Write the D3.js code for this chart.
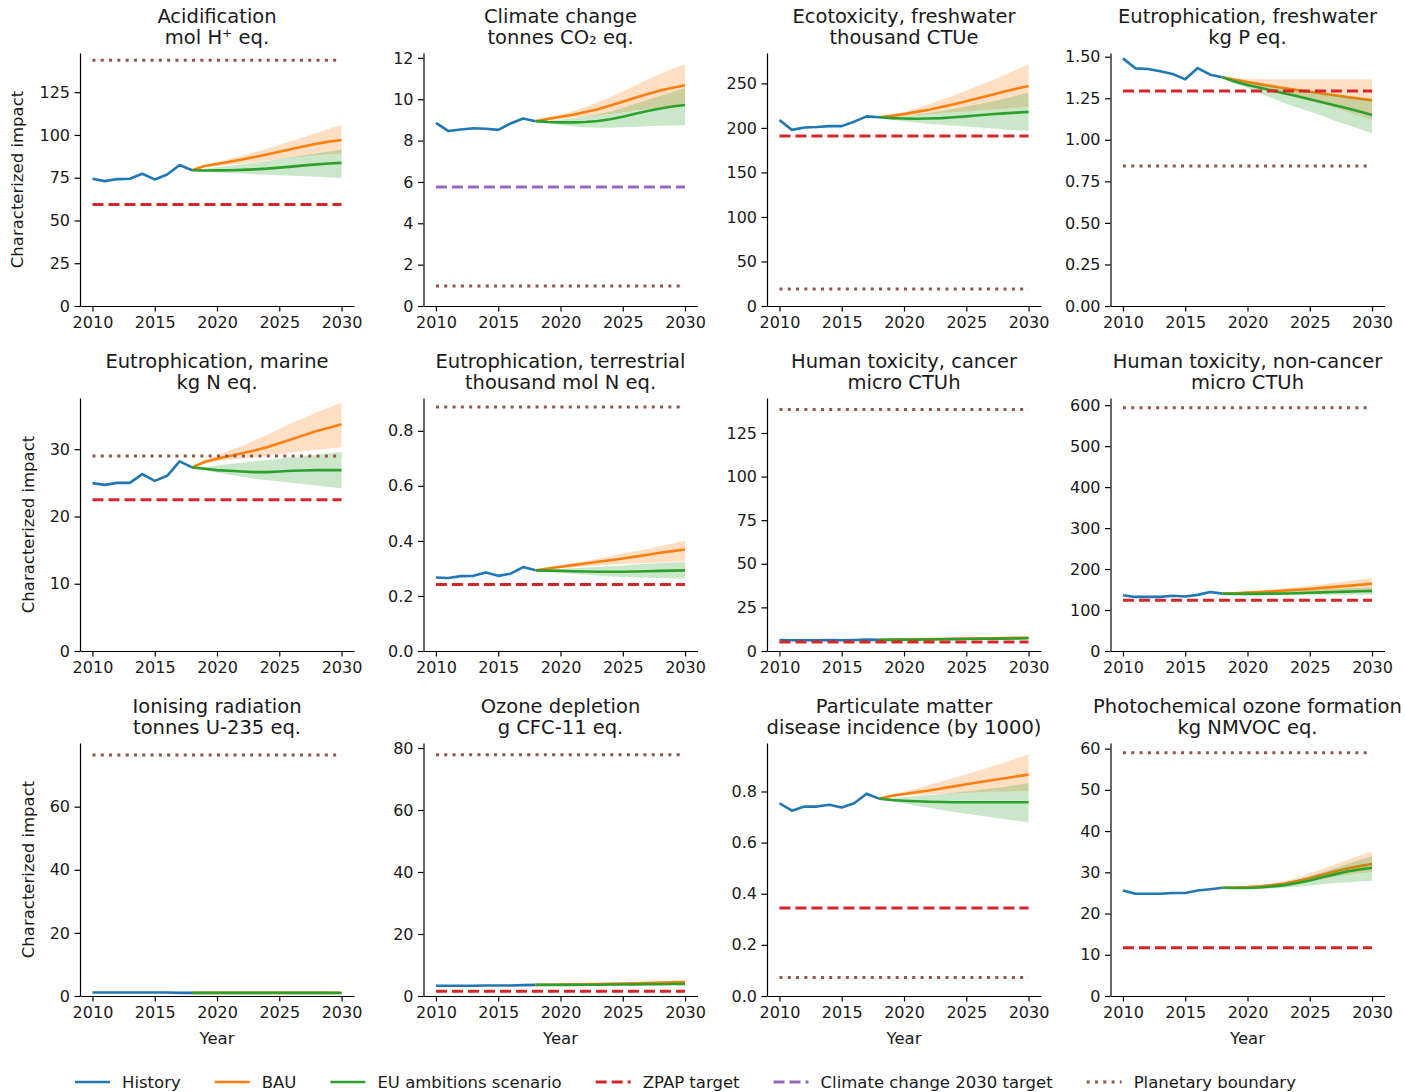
<!DOCTYPE html>
<html>
<head>
<meta charset="utf-8">
<script src="https://cdn.jsdelivr.net/npm/d3@7"></script>
<style>
  body { margin: 0; background: #fff; }
  svg { font-family: "DejaVu Sans", sans-serif; }
</style>
</head>
<body>
<div id="chart"></div>
<script>
// ---- data ----
const impactNames = [
  "Acidification", "Climate change", "Ecotoxicity, freshwater", "Eutrophication, freshwater",
  "Eutrophication, marine", "Eutrophication, terrestrial", "Human toxicity, cancer", "Human toxicity, non-cancer",
  "Ionising radiation", "Ozone depletion", "Particulate matter", "Photochemical ozone formation"
];
const impactUnits = [
  "mol H\u207A eq.", "tonnes CO\u2082 eq.", "thousand CTUe", "kg P eq.",
  "kg N eq.", "thousand mol N eq.", "micro CTUh", "micro CTUh",
  "tonnes U-235 eq.", "g CFC-11 eq.", "disease incidence (by 1000)", "kg NMVOC eq."
];
const historyYears = [2010, 2011, 2012, 2013, 2014, 2015, 2016, 2017, 2018];
const scenarioYears = [2018, 2019, 2020, 2021, 2022, 2023, 2024, 2025, 2026, 2027, 2028, 2029, 2030];
const xTicks = [2010, 2015, 2020, 2025, 2030];

const historyValues = [
  [74.4, 73.0, 74.2, 74.4, 77.3, 74.0, 76.9, 82.4, 79.4],
  [8.86, 8.46, 8.54, 8.60, 8.57, 8.52, 8.83, 9.07, 8.94],
  [209, 197.8, 200.4, 201, 202, 202, 207, 213, 212],
  [1.490, 1.430, 1.426, 1.412, 1.396, 1.364, 1.432, 1.392, 1.376],
  [24.96, 24.7, 25.0, 25.0, 26.3, 25.3, 26.05, 28.2, 27.3],
  [0.267, 0.265, 0.272, 0.273, 0.285, 0.273, 0.281, 0.305, 0.293],
  [6.3, 6.2, 6.2, 6.2, 6.3, 6.2, 6.3, 6.5, 6.4],
  [136, 132, 132, 132, 135, 133, 137, 144, 140],
  [1.1, 1.1, 1.1, 1.1, 1.1, 1.1, 1.1, 1.0, 1.0],
  [3.3, 3.3, 3.3, 3.3, 3.4, 3.4, 3.4, 3.5, 3.6],
  [0.754, 0.725, 0.741, 0.741, 0.748, 0.737, 0.754, 0.791, 0.772],
  [25.6, 24.8, 24.8, 24.8, 25.0, 25.0, 25.6, 25.9, 26.25]
];

const bauValues = [
  [79.4, 81.8, 83.0, 84.3, 85.7, 87.1, 88.6, 90.2, 91.8, 93.4, 94.9, 96.1, 97.1],
  [8.94, 9.05, 9.15, 9.25, 9.38, 9.52, 9.70, 9.88, 10.07, 10.25, 10.42, 10.56, 10.68],
  [212, 213.5, 215.5, 218, 220.5, 223.5, 226.5, 230, 233.5, 237, 240.5, 244, 247],
  [1.376, 1.362, 1.348, 1.335, 1.322, 1.31, 1.299, 1.289, 1.279, 1.268, 1.258, 1.248, 1.238],
  [27.3, 28.1, 28.6, 29.0, 29.4, 29.8, 30.3, 30.9, 31.5, 32.1, 32.7, 33.2, 33.7],
  [0.293, 0.3, 0.306, 0.312, 0.318, 0.324, 0.33, 0.336, 0.343, 0.35, 0.357, 0.363, 0.369],
  [6.4, 6.5, 6.6, 6.7, 6.8, 6.9, 7.0, 7.1, 7.2, 7.3, 7.4, 7.5, 7.6],
  [140, 141, 142.5, 144, 145.5, 147.5, 149.5, 151.5, 154, 156.5, 159, 161.5, 164.5],
  [1.0, 1.0, 1.0, 1.0, 1.0, 1.0, 1.0, 1.0, 1.0, 1.0, 1.0, 1.0, 1.0],
  [3.6, 3.65, 3.7, 3.75, 3.8, 3.85, 3.9, 4.0, 4.1, 4.2, 4.3, 4.4, 4.5],
  [0.772, 0.783, 0.790, 0.797, 0.804, 0.812, 0.820, 0.828, 0.836, 0.844, 0.851, 0.859, 0.866],
  [26.25, 26.3, 26.4, 26.6, 26.9, 27.3, 27.9, 28.6, 29.4, 30.2, 30.9, 31.5, 32.0]
];
const bauHigh = [
  [79.4, 82.4, 84.2, 86.0, 87.9, 89.9, 92.0, 94.2, 96.5, 98.8, 101.2, 103.6, 106.0],
  [8.94, 9.10, 9.25, 9.42, 9.62, 9.85, 10.10, 10.38, 10.67, 10.95, 11.22, 11.47, 11.70],
  [212, 214.5, 218, 222, 226.5, 231.5, 236.5, 242, 247.5, 253, 259, 265, 271.5],
  [1.376, 1.37, 1.367, 1.366, 1.365, 1.365, 1.365, 1.365, 1.365, 1.365, 1.365, 1.365, 1.365],
  [27.3, 28.4, 29.1, 29.8, 30.5, 31.3, 32.1, 33.0, 33.9, 34.7, 35.5, 36.2, 36.9],
  [0.293, 0.303, 0.311, 0.319, 0.327, 0.335, 0.344, 0.353, 0.362, 0.371, 0.381, 0.391, 0.402],
  [6.4, 6.6, 6.7, 6.9, 7.0, 7.2, 7.3, 7.5, 7.6, 7.8, 7.9, 8.1, 8.2],
  [140, 142, 144.5, 147, 150, 153, 156, 159.5, 163, 166.5, 170.5, 174, 178],
  [1.0, 1.02, 1.04, 1.05, 1.07, 1.08, 1.1, 1.11, 1.13, 1.15, 1.16, 1.18, 1.2],
  [3.6, 3.7, 3.8, 3.9, 4.0, 4.1, 4.2, 4.3, 4.4, 4.6, 4.7, 4.8, 5.0],
  [0.772, 0.786, 0.799, 0.812, 0.825, 0.839, 0.853, 0.867, 0.882, 0.897, 0.912, 0.929, 0.946],
  [26.25, 26.4, 26.6, 26.9, 27.3, 27.9, 28.7, 29.7, 30.8, 31.9, 33.0, 34.1, 35.0]
];
const bauLow = [
  [79.4, 81.2, 81.8, 82.5, 83.3, 84.1, 85.0, 85.9, 86.8, 87.6, 88.3, 88.7, 89.0],
  [8.94, 9.00, 9.05, 9.10, 9.16, 9.22, 9.29, 9.37, 9.45, 9.53, 9.60, 9.66, 9.70],
  [212, 212.5, 213.5, 214.5, 215.5, 216.5, 217.5, 218.5, 219.5, 220.5, 221.5, 222.5, 223.5],
  [1.376, 1.355, 1.335, 1.315, 1.295, 1.275, 1.255, 1.235, 1.215, 1.195, 1.17, 1.145, 1.12],
  [27.3, 27.9, 28.2, 28.4, 28.6, 28.8, 29.0, 29.3, 29.5, 29.7, 29.9, 30.1, 30.3],
  [0.293, 0.297, 0.301, 0.304, 0.307, 0.31, 0.313, 0.316, 0.318, 0.32, 0.322, 0.324, 0.327],
  [6.4, 6.4, 6.5, 6.5, 6.6, 6.6, 6.7, 6.7, 6.8, 6.8, 6.9, 6.9, 7.0],
  [140, 140, 140.5, 141, 141.5, 142, 143, 144, 145, 146, 147, 148, 149],
  [1.0, 0.99, 0.98, 0.98, 0.97, 0.96, 0.95, 0.95, 0.94, 0.93, 0.92, 0.92, 0.91],
  [3.6, 3.6, 3.6, 3.6, 3.65, 3.7, 3.75, 3.8, 3.85, 3.9, 3.95, 4.0, 4.05],
  [0.772, 0.779, 0.783, 0.786, 0.789, 0.791, 0.793, 0.795, 0.797, 0.799, 0.800, 0.801, 0.802],
  [26.25, 26.2, 26.2, 26.3, 26.5, 26.8, 27.2, 27.7, 28.3, 28.9, 29.4, 29.8, 30.1]
];

const euValues = [
  [79.4, 79.2, 79.3, 79.4, 79.6, 79.9, 80.3, 80.9, 81.5, 82.2, 82.8, 83.3, 83.7],
  [8.94, 8.90, 8.88, 8.88, 8.90, 8.95, 9.03, 9.15, 9.30, 9.43, 9.55, 9.65, 9.72],
  [212, 211, 210.5, 210.3, 210.5, 211, 212, 213, 214.2, 215.3, 216.3, 217.2, 218],
  [1.376, 1.35, 1.33, 1.313, 1.296, 1.279, 1.262, 1.244, 1.226, 1.208, 1.19, 1.17, 1.15],
  [27.3, 27.1, 26.9, 26.8, 26.7, 26.6, 26.6, 26.7, 26.8, 26.85, 26.9, 26.9, 26.9],
  [0.293, 0.292, 0.291, 0.29, 0.289, 0.288, 0.288, 0.288, 0.289, 0.29, 0.291, 0.292, 0.293],
  [6.4, 6.4, 6.5, 6.5, 6.6, 6.7, 6.8, 6.9, 7.0, 7.0, 7.1, 7.2, 7.3],
  [140, 139.5, 139.5, 139.5, 140, 140.5, 141, 142, 143, 144, 145, 146, 146.5],
  [1.0, 1.0, 1.0, 1.0, 1.0, 1.0, 0.99, 0.99, 0.99, 0.98, 0.98, 0.98, 0.97],
  [3.6, 3.6, 3.6, 3.6, 3.65, 3.65, 3.7, 3.7, 3.75, 3.8, 3.8, 3.85, 3.9],
  [0.772, 0.767, 0.764, 0.762, 0.760, 0.759, 0.758, 0.758, 0.758, 0.758, 0.758, 0.758, 0.758],
  [26.25, 26.2, 26.2, 26.3, 26.6, 26.9, 27.4, 28.0, 28.8, 29.5, 30.2, 30.7, 31.1]
];
const euHigh = [
  [79.4, 80.2, 81.1, 82.0, 82.9, 83.8, 84.8, 85.9, 87.0, 88.1, 89.3, 90.4, 91.5],
  [8.94, 8.97, 9.02, 9.08, 9.16, 9.27, 9.41, 9.58, 9.78, 9.97, 10.16, 10.35, 10.55],
  [212, 212.5, 213.5, 215, 217, 219, 221.5, 224, 226.5, 229.5, 232.5, 236, 239.5],
  [1.376, 1.365, 1.35, 1.336, 1.322, 1.31, 1.298, 1.287, 1.277, 1.267, 1.257, 1.25, 1.245],
  [27.3, 27.4, 27.6, 27.8, 28.0, 28.2, 28.4, 28.6, 28.8, 29.0, 29.2, 29.4, 29.6],
  [0.293, 0.296, 0.298, 0.301, 0.303, 0.305, 0.308, 0.311, 0.314, 0.317, 0.32, 0.322, 0.324],
  [6.4, 6.5, 6.6, 6.7, 6.8, 6.9, 7.0, 7.2, 7.3, 7.4, 7.5, 7.6, 7.7],
  [140, 141, 142, 143, 144, 145.5, 147, 148.5, 150, 151.5, 153, 154, 155],
  [1.0, 1.01, 1.02, 1.03, 1.04, 1.05, 1.06, 1.07, 1.08, 1.09, 1.1, 1.11, 1.12],
  [3.6, 3.65, 3.7, 3.75, 3.8, 3.85, 3.9, 3.95, 4.0, 4.05, 4.1, 4.15, 4.2],
  [0.772, 0.774, 0.778, 0.782, 0.786, 0.790, 0.795, 0.800, 0.806, 0.812, 0.818, 0.825, 0.833],
  [26.25, 26.3, 26.4, 26.6, 27.0, 27.5, 28.2, 29.0, 30.0, 31.0, 32.0, 33.0, 33.9]
];
const euLow = [
  [79.4, 78.6, 78.1, 77.7, 77.4, 77.1, 76.8, 76.5, 76.2, 75.9, 75.6, 75.2, 74.8],
  [8.94, 8.83, 8.75, 8.69, 8.65, 8.62, 8.62, 8.64, 8.67, 8.70, 8.72, 8.73, 8.74],
  [212, 209.5, 207.5, 206, 204.5, 203.5, 202.5, 201.5, 200.5, 199.5, 198.5, 197.5, 196.5],
  [1.376, 1.34, 1.31, 1.28, 1.25, 1.22, 1.195, 1.17, 1.145, 1.115, 1.09, 1.065, 1.04],
  [27.3, 26.9, 26.5, 26.2, 25.9, 25.6, 25.4, 25.2, 25.0, 24.8, 24.6, 24.4, 24.2],
  [0.293, 0.288, 0.284, 0.28, 0.277, 0.274, 0.271, 0.269, 0.267, 0.266, 0.265, 0.264, 0.263],
  [6.4, 6.3, 6.3, 6.3, 6.3, 6.3, 6.4, 6.4, 6.5, 6.5, 6.6, 6.6, 6.7],
  [140, 138.5, 138, 137.5, 137.5, 137.5, 137.5, 137.5, 137.5, 137.5, 137.5, 137.5, 137.5],
  [1.0, 0.99, 0.98, 0.97, 0.96, 0.95, 0.94, 0.93, 0.92, 0.91, 0.9, 0.89, 0.88],
  [3.6, 3.55, 3.5, 3.5, 3.5, 3.5, 3.5, 3.5, 3.5, 3.5, 3.5, 3.55, 3.6],
  [0.772, 0.762, 0.753, 0.744, 0.736, 0.728, 0.720, 0.713, 0.706, 0.699, 0.692, 0.686, 0.680],
  [26.25, 26.1, 26.0, 26.0, 26.1, 26.3, 26.5, 26.8, 27.1, 27.4, 27.6, 27.8, 27.9]
];

// null where the panel has no such reference line
const zpapTarget = [59.4, null, 191, 1.293, 22.5, 0.242, 5.2, 124, null, 1.5, 0.344, 11.7];
const climateTarget = [null, 5.75, null, null, null, null, null, null, null, null, null, null];
const planetaryBoundary = [143.7, 0.97, 19, 0.842, 29.0, 0.887, 138.4, 594, 76.4, 77.8, 0.072, 59.0];

const yTicks = [
  [0, 25, 50, 75, 100, 125],
  [0, 2, 4, 6, 8, 10, 12],
  [0, 50, 100, 150, 200, 250],
  [0, 0.25, 0.5, 0.75, 1.0, 1.25, 1.5],
  [0, 10, 20, 30],
  [0, 0.2, 0.4, 0.6, 0.8],
  [0, 25, 50, 75, 100, 125],
  [0, 100, 200, 300, 400, 500, 600],
  [0, 20, 40, 60],
  [0, 20, 40, 60, 80],
  [0, 0.2, 0.4, 0.6, 0.8],
  [0, 10, 20, 30, 40, 50, 60]
];

const legendItems = ["History", "BAU", "EU ambitions scenario", "ZPAP target", "Climate change 2030 target", "Planetary boundary"];

// ---- layout & style ----
const attrs = {
  svgWidth: 1405,
  svgHeight: 1092,
  cols: 4,
  panelLeft: 80,
  panelTop: 53,
  colStep: 343.5,
  rowStep: 345,
  panelWidth: 274,
  panelHeight: 253,
  tickFont: 16,
  labelFont: 16.5,
  titleFont: 19.5,
  textFill: "#1a1a1a",
  colors: {
    history: "#1f77b4", bau: "#ff7f0e", eu: "#2ca02c",
    zpap: "#d62728", climate: "#9467bd", planetary: "#8c564b"
  },
  lineWidth: 2.6,
  refWidth: 3,
  dashed: "11,5",
  dotted: "3,5.3"
};

const svg = d3.select("#chart").append("svg")
  .attr("width", attrs.svgWidth)
  .attr("height", attrs.svgHeight)
  .style("background", "#fff");

const decimals = ticks => d3.max(ticks, t => {
  const s = String(t);
  return s.includes(".") ? s.split(".")[1].length : 0;
});

impactNames.forEach((name, i) => {
  const col = i % attrs.cols;
  const row = Math.floor(i / attrs.cols);
  const W = attrs.panelWidth, H = attrs.panelHeight;

  const g = svg.append("g")
    .attr("class", "panel")
    .attr("transform", `translate(${attrs.panelLeft + col * attrs.colStep},${attrs.panelTop + row * attrs.rowStep})`);

  const x = d3.scaleLinear().domain([2009, 2031]).range([0, W]);

  // matplotlib-ish autoscale: 5% margin above, axis floor at 0
  const allVals = [].concat(historyValues[i], bauHigh[i], bauLow[i], euHigh[i], euLow[i],
    [zpapTarget[i], climateTarget[i], planetaryBoundary[i]].filter(v => v != null));
  const vMax = d3.max(allVals), vMin = d3.min(allVals);
  const y = d3.scaleLinear().domain([0, vMax + 0.05 * (vMax - vMin)]).range([H, 0]);

  const line = d3.line().x(d => x(d[0])).y(d => y(d[1]));
  const area = d3.area().x(d => x(d[0])).y0(d => y(d[1])).y1(d => y(d[2]));

  const hist = historyYears.map((yr, k) => [yr, historyValues[i][k]]);
  const bau = scenarioYears.map((yr, k) => [yr, bauValues[i][k]]);
  const bauBand = scenarioYears.map((yr, k) => [yr, bauLow[i][k], bauHigh[i][k]]);
  const eu = scenarioYears.map((yr, k) => [yr, euValues[i][k]]);
  const euBand = scenarioYears.map((yr, k) => [yr, euLow[i][k], euHigh[i][k]]);

  g.append("path").attr("d", line(hist))
    .attr("fill", "none").attr("stroke", attrs.colors.history).attr("stroke-width", attrs.lineWidth)
    .attr("stroke-linejoin", "round");
  g.append("path").attr("d", area(bauBand)).attr("fill", attrs.colors.bau).attr("fill-opacity", 0.25);
  g.append("path").attr("d", line(bau))
    .attr("fill", "none").attr("stroke", attrs.colors.bau).attr("stroke-width", attrs.lineWidth);
  g.append("path").attr("d", area(euBand)).attr("fill", attrs.colors.eu).attr("fill-opacity", 0.25);
  g.append("path").attr("d", line(eu))
    .attr("fill", "none").attr("stroke", attrs.colors.eu).attr("stroke-width", attrs.lineWidth);

  const refLines = [
    { v: zpapTarget[i], color: attrs.colors.zpap, dash: attrs.dashed },
    { v: climateTarget[i], color: attrs.colors.climate, dash: attrs.dashed },
    { v: planetaryBoundary[i], color: attrs.colors.planetary, dash: attrs.dotted }
  ].filter(r => r.v != null);

  refLines.forEach(r => {
    g.append("path").attr("d", line([[2010, r.v], [2030, r.v]]))
      .attr("fill", "none").attr("stroke", r.color)
      .attr("stroke-width", attrs.refWidth).attr("stroke-dasharray", r.dash);
  });

  // axes (only left and bottom spines)
  const fmt = d3.format(`.${decimals(yTicks[i])}f`);
  const yAxis = g.append("g").attr("class", "y-axis")
    .call(d3.axisLeft(y).tickValues(yTicks[i]).tickFormat(fmt).tickSize(5.5).tickSizeOuter(0).tickPadding(4.5));
  const xAxis = g.append("g").attr("class", "x-axis")
    .attr("transform", `translate(0,${H})`)
    .call(d3.axisBottom(x).tickValues(xTicks).tickFormat(d3.format("d")).tickSize(5.5).tickSizeOuter(0).tickPadding(5.5));

  [yAxis, xAxis].forEach(a => {
    a.select(".domain").attr("stroke", "#000").attr("stroke-width", 1.2);
    a.selectAll(".tick line").attr("stroke", "#000").attr("stroke-width", 1.2);
    a.selectAll(".tick text")
      .attr("fill", attrs.textFill)
      .style("font-family", "DejaVu Sans")
      .style("font-size", attrs.tickFont + "px");
  });

  // two-line title
  const title = g.append("text")
    .attr("text-anchor", "middle")
    .attr("fill", attrs.textFill)
    .style("font-size", attrs.titleFont + "px");
  title.append("tspan").attr("x", W / 2).attr("y", -30).text(name);
  title.append("tspan").attr("x", W / 2).attr("y", -9.5).text(impactUnits[i]);

  if (col === 0) {
    const widest = d3.max(yAxis.selectAll(".tick text").nodes(), n => n.getComputedTextLength());
    const lx = -5.5 - 4.5 - widest - 16;
    g.append("text")
      .attr("transform", `translate(${lx},${H / 2}) rotate(-90)`)
      .attr("text-anchor", "middle")
      .attr("fill", attrs.textFill)
      .style("font-size", attrs.labelFont + "px")
      .text("Characterized impact");
  }
  if (row === 2) {
    g.append("text")
      .attr("x", W / 2).attr("y", H + 48)
      .attr("text-anchor", "middle")
      .attr("fill", attrs.textFill)
      .style("font-size", attrs.labelFont + "px")
      .text("Year");
  }
});

// ---- legend along the bottom ----
const legendStyles = [
  { color: attrs.colors.history, dash: null },
  { color: attrs.colors.bau, dash: null },
  { color: attrs.colors.eu, dash: null },
  { color: attrs.colors.zpap, dash: attrs.dashed },
  { color: attrs.colors.climate, dash: attrs.dashed },
  { color: attrs.colors.planetary, dash: attrs.dotted }
];
const legend = svg.append("g").attr("class", "legend").attr("transform", "translate(75,1082)");
let lx = 0;
legendItems.forEach((label, k) => {
  const st = legendStyles[k];
  legend.append("line")
    .attr("x1", lx).attr("x2", lx + 35).attr("y1", 0).attr("y2", 0)
    .attr("stroke", st.color)
    .attr("stroke-width", st.dash ? attrs.refWidth : attrs.lineWidth)
    .attr("stroke-dasharray", st.dash);
  const t = legend.append("text")
    .attr("x", lx + 47).attr("y", 6)
    .attr("fill", attrs.textFill)
    .style("font-size", attrs.labelFont + "px")
    .text(label);
  lx += 47 + t.node().getComputedTextLength() + 34;
});
</script>
</body>
</html>
